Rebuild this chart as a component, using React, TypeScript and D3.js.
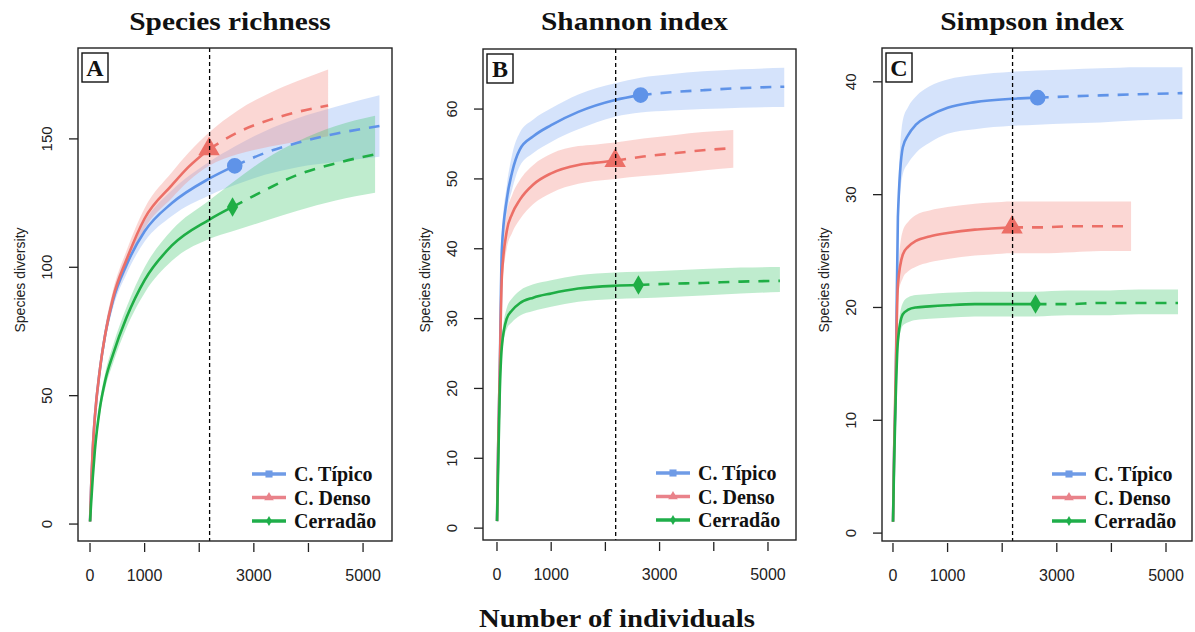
import { useEffect, useRef } from 'react';
import * as d3 from 'd3';

// sample sizes (number of individuals) for each community
const nObsTipico = [1, 20, 50, 90, 180, 280, 420, 670, 1000, 1500, 2180, 2650];
const nExtTipico = [2650, 3200, 3800, 4500, 5300];
const nObsDenso = [1, 20, 50, 90, 180, 280, 420, 670, 1000, 1500, 1800, 2180];
const nExtDenso = [2180, 2700, 3300, 3800, 4360];
const nObsCerradao = [1, 20, 50, 90, 180, 280, 420, 670, 1000, 1500, 2180, 2610];
const nExtCerradao = [2610, 3200, 3800, 4500, 5220];

// [estimate, lower, upper]
const richTipicoObs = [[1, 1, 1], [14, 12, 16], [29, 26, 32], [42, 39, 45], [60, 57, 63], [74, 71, 77], [87, 84, 90], [101, 97.5, 104.5], [114, 110, 118], [125, 120, 130], [134.5, 128, 141], [139.5, 132, 147]];
const richTipicoExt = [[139.5, 132, 147], [144.5, 136, 153], [148.5, 139, 158], [152, 141, 162.5], [155, 143, 167]];
const richDensoObs = [[1, 1, 1], [14, 12, 16], [29, 26, 32], [42, 39, 45], [60, 57, 63], [74, 71, 77], [88, 85, 91], [103, 99.5, 106.5], [119, 115, 123], [132, 127, 137], [139, 133.5, 144.5], [146, 139.5, 152.5]];
const richDensoExt = [[146, 139.5, 152.5], [152.5, 144, 161], [157.5, 147, 168], [160.5, 149, 172.5], [163, 151, 177]];
const richCerradaoObs = [[1, 1, 1], [8, 7, 9], [18, 16.5, 19.5], [29, 27, 31], [45, 42.5, 47.5], [56, 53, 59], [66, 62.5, 69.5], [80.5, 76.5, 84.5], [95, 90, 100], [108.5, 102.5, 114.5], [118.5, 111, 126], [123.5, 114, 133]];
const richCerradaoExt = [[123.5, 114, 133], [130, 118, 142], [136, 122, 149], [140.5, 126, 155], [144, 129, 159]];

const shanTipicoObs = [[1, 1, 1], [11, 10, 12], [22, 20.5, 23.5], [40, 38, 42], [47, 45, 49], [51, 48.5, 53.5], [54.2, 51.8, 56.6], [56.1, 53.7, 58.5], [57.7, 55.3, 60.1], [59.6, 57.1, 62.1], [61.3, 58.9, 63.7], [62, 59.5, 64.5]];
const shanTipicoExt = [[62, 59.5, 64.5], [62.4, 59.8, 65], [62.7, 60, 65.4], [63, 60.2, 65.7], [63.2, 60.3, 65.9]];
const shanDensoObs = [[1, 1, 1], [11, 10, 12], [22, 20.5, 23.5], [36, 34, 38], [42.5, 40, 45], [45, 42.3, 47.7], [47, 44.2, 49.8], [49.2, 46.4, 52], [50.8, 48, 53.6], [52, 49.3, 54.7], [52.3, 49.7, 54.9], [52.6, 50, 55.2]];
const shanDensoExt = [[52.6, 50, 55.2], [53.2, 50.4, 55.8], [53.7, 50.8, 56.3], [54.1, 51.2, 56.7], [54.4, 51.6, 57]];
const shanCerradaoObs = [[1, 1, 1], [8, 7.5, 8.5], [19, 18, 20], [26, 25, 27], [30, 28.5, 31.5], [31.2, 29.5, 32.9], [32.2, 30.4, 34], [33, 31.1, 34.9], [33.6, 31.7, 35.5], [34.3, 32.4, 36.2], [34.7, 32.8, 36.6], [34.8, 32.9, 36.7]];
const shanCerradaoExt = [[34.8, 32.9, 36.7], [35, 33.1, 36.9], [35.1, 33.3, 37.1], [35.3, 33.6, 37.3], [35.4, 33.8, 37.4]];

const simpTipicoObs = [[1, 1, 1], [7, 6.5, 7.5], [13, 12, 14], [28, 26.5, 29.5], [34.2, 31.8, 36.6], [35.3, 32.8, 37.8], [36.2, 33.7, 38.7], [37, 34.6, 39.6], [37.7, 35.4, 40.2], [38.2, 35.8, 40.6], [38.5, 36.1, 40.9], [38.6, 36.2, 41]];
const simpTipicoExt = [[38.6, 36.2, 41], [38.7, 36.3, 41.1], [38.8, 36.4, 41.2], [38.9, 36.6, 41.3], [39, 36.7, 41.3]];
const simpDensoObs = [[1, 1, 1], [7, 6.5, 7.5], [14, 13, 15], [22, 21, 23], [24.7, 22.6, 26.8], [25.4, 23.2, 27.6], [25.9, 23.6, 28.2], [26.3, 24, 28.6], [26.6, 24.3, 28.9], [26.9, 24.6, 29.2], [27, 24.7, 29.3], [27.1, 24.8, 29.4]];
const simpDensoExt = [[27.1, 24.8, 29.4], [27.1, 24.8, 29.4], [27.2, 24.9, 29.4], [27.2, 25, 29.4], [27.2, 25, 29.4]];
const simpCerradaoObs = [[1, 1, 1], [6, 5.7, 6.3], [12, 11.5, 12.5], [17, 16.3, 17.7], [19.4, 18.4, 20.4], [19.8, 18.7, 20.9], [20, 18.9, 21.1], [20.1, 19, 21.2], [20.2, 19.1, 21.3], [20.3, 19.2, 21.4], [20.3, 19.2, 21.4], [20.3, 19.2, 21.4]];
const simpCerradaoExt = [[20.3, 19.2, 21.4], [20.3, 19.3, 21.5], [20.4, 19.3, 21.5], [20.4, 19.4, 21.6], [20.4, 19.4, 21.6]];

const seriesNames = ['C. Típico', 'C. Denso', 'Cerradão'];
const xTicks = [0, 1000, 2000, 3000, 4000, 5000];
const xTickLabels = ['0', '1000', '', '3000', '', '5000'];
const refLine = 2190;

const lineColors = ['#5f93e8', '#ec6f67', '#1fae45'];
const bandColors = ['#7fa9f2', '#f3857c', '#3cc46a'];
const legendColors = ['#6f9be6', '#e9828a', '#1fae4a'];

const panels = [
  { letter: 'A', title: 'Species richness', box: [78, 392, 48, 541], xDom: [-220, 5530], yDom: [-6.6, 185.4], yTicks: [0, 50, 100, 150],
    obs: [richTipicoObs, richDensoObs, richCerradaoObs], ext: [richTipicoExt, richDensoExt, richCerradaoExt] },
  { letter: 'B', title: 'Shannon index', box: [483, 796, 49, 540], xDom: [-258, 5517], yDom: [-1.7, 68.6], yTicks: [0, 10, 20, 30, 40, 50, 60],
    obs: [shanTipicoObs, shanDensoObs, shanCerradaoObs], ext: [shanTipicoExt, shanDensoExt, shanCerradaoExt] },
  { letter: 'C', title: 'Simpson index', box: [882, 1192, 48, 541], xDom: [-201, 5476], yDom: [-0.7, 43.0], yTicks: [0, 10, 20, 30, 40],
    obs: [simpTipicoObs, simpDensoObs, simpCerradaoObs], ext: [simpTipicoExt, simpDensoExt, simpCerradaoExt] },
];

const nObs = [nObsTipico, nObsDenso, nObsCerradao];
const nExt = [nExtTipico, nExtDenso, nExtCerradao];

const SERIF = '"Liberation Serif", "Times New Roman", serif';
const SANS = '"Liberation Sans", Arial, sans-serif';

const App = () => {
  const svgRef = useRef<SVGSVGElement>(null);

  useEffect(() => {
    const svg = d3.select(svgRef.current);
    svg.selectAll('*').remove();

    panels.forEach((p) => {
      const [l, r, t, b] = p.box;
      const x = d3.scaleLinear().domain(p.xDom).range([l, r]);
      const y = d3.scaleLinear().domain(p.yDom).range([b, t]);
      const g = svg.append('g');

      // bands
      [0, 1, 2].forEach((i) => {
        const pts = nObs[i].map((n, k) => [n, ...p.obs[i][k]])
          .concat(nExt[i].slice(1).map((n, k) => [n, ...p.ext[i][k + 1]]));
        const area = d3.area<number[]>()
          .x(d => x(d[0])).y0(d => y(d[2])).y1(d => y(d[3]))
          .curve(d3.curveMonotoneX);
        g.append('path').attr('d', area(pts)).attr('fill', bandColors[i]).attr('fill-opacity', 0.33);
      });

      // lines + markers
      [0, 1, 2].forEach((i) => {
        const line = d3.line<number[]>().x(d => x(d[0])).y(d => y(d[1])).curve(d3.curveMonotoneX);
        const obsPts = nObs[i].map((n, k) => [n, p.obs[i][k][0]]);
        const extPts = nExt[i].map((n, k) => [n, p.ext[i][k][0]]);
        g.append('path').attr('d', line(obsPts)).attr('fill', 'none')
          .attr('stroke', lineColors[i]).attr('stroke-width', 2.6);
        g.append('path').attr('d', line(extPts)).attr('fill', 'none')
          .attr('stroke', lineColors[i]).attr('stroke-width', 2.6).attr('stroke-dasharray', '11,9');
        const last = obsPts[obsPts.length - 1];
        const sym = [d3.symbolCircle, d3.symbolTriangle, d3.symbolDiamond][i];
        const size = [190, 200, 110][i];
        g.append('path').attr('d', d3.symbol(sym, size)())
          .attr('transform', `translate(${x(last[0])},${y(last[1])})`)
          .attr('fill', lineColors[i]);
      });

      // reference line
      g.append('line').attr('x1', x(refLine)).attr('x2', x(refLine)).attr('y1', t).attr('y2', b)
        .attr('stroke', '#000').attr('stroke-width', 1.3).attr('stroke-dasharray', '4,3');

      // box
      g.append('rect').attr('x', l).attr('y', t).attr('width', r - l).attr('height', b - t)
        .attr('fill', 'none').attr('stroke', '#222').attr('stroke-width', 1.4);

      // y axis
      p.yTicks.forEach((v) => {
        g.append('line').attr('x1', l - 9).attr('x2', l).attr('y1', y(v)).attr('y2', y(v))
          .attr('stroke', '#222').attr('stroke-width', 1.3);
        g.append('text').attr('transform', `translate(${l - 26},${y(v)}) rotate(-90)`)
          .attr('text-anchor', 'middle').style('font', `15px ${SANS}`).attr('fill', '#222').text(v);
      });
      g.append('text').attr('transform', `translate(${l - 53},280) rotate(-90)`)
        .attr('text-anchor', 'middle').style('font', `14px ${SANS}`).attr('fill', '#222').text('Species diversity');

      // x axis
      xTicks.forEach((v, k) => {
        g.append('line').attr('x1', x(v)).attr('x2', x(v)).attr('y1', b + 2).attr('y2', b + 11)
          .attr('stroke', '#222').attr('stroke-width', 1.3);
        g.append('text').attr('x', x(v)).attr('y', b + 40).attr('text-anchor', 'middle')
          .style('font', `16px ${SANS}`).attr('fill', '#222').text(xTickLabels[k]);
      });

      // title
      g.append('text').attr('transform', `translate(${(l + r) / 2 - 5},30) scale(1.13,1)`)
        .attr('text-anchor', 'middle').style('font', `bold 26px ${SERIF}`).attr('fill', '#111').text(p.title);

      // panel letter
      g.append('rect').attr('x', l + 4).attr('y', t + 5).attr('width', 26).attr('height', 29)
        .attr('fill', '#fff').attr('stroke', '#111').attr('stroke-width', 1.4);
      g.append('text').attr('x', l + 17).attr('y', t + 28).attr('text-anchor', 'middle')
        .style('font', `bold 24px ${SERIF}`).attr('fill', '#111').text(p.letter);

      // legend
      seriesNames.forEach((name, i) => {
        const cy = b - 67 + i * 23.5;
        g.append('line').attr('x1', r - 140).attr('x2', r - 106).attr('y1', cy).attr('y2', cy)
          .attr('stroke', legendColors[i]).attr('stroke-width', 3.5);
        const sym = [d3.symbolSquare, d3.symbolTriangle, d3.symbolDiamond][i];
        g.append('path').attr('d', d3.symbol(sym, [50, 40, 30][i])())
          .attr('transform', `translate(${r - 123},${cy})`).attr('fill', legendColors[i]);
        g.append('text').attr('x', r - 98).attr('y', cy + 7)
          .style('font', `bold 20px ${SERIF}`).attr('fill', '#111').text(name);
      });
    });

    svg.append('text').attr('transform', 'translate(617,627) scale(1.15,1)')
      .attr('text-anchor', 'middle').style('font', `bold 25px ${SERIF}`).attr('fill', '#111')
      .text('Number of individuals');
  }, []);

  return (
    <svg ref={svgRef} width={1195} height={632}
      style={{ position: 'absolute', left: 0, top: 0, background: '#fff' }} />
  );
};

export default App;
